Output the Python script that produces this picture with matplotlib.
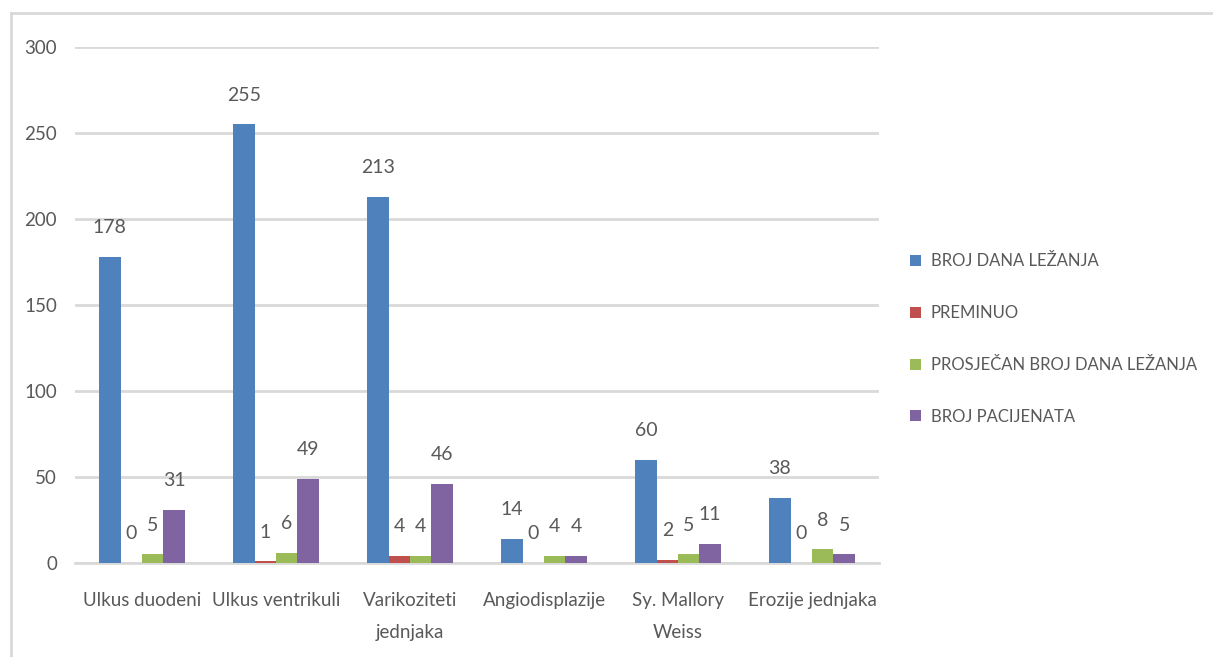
import matplotlib
matplotlib.use("Agg")
import matplotlib.pyplot as plt
import numpy as np
from matplotlib.lines import Line2D

plt.rcParams['font.family'] = ['Lato', 'DejaVu Sans']

categories = ["Ulkus duodeni", "Ulkus ventrikuli", "Varikoziteti\njednjaka",
              "Angiodisplazije", "Sy. Mallory\nWeiss", "Erozije jednjaka"]
series_names = ["BROJ DANA LEŽANJA", "PREMINUO",
                "PROSJEČAN BROJ DANA LEŽANJA", "BROJ PACIJENATA"]
broj_dana = [178, 255, 213, 14, 60, 38]
preminuo = [0, 1, 4, 0, 2, 0]
prosjecan = [5, 6, 4, 4, 5, 8]
pacijenti = [31, 49, 46, 4, 11, 5]
colors = ["#4F81BD", "#C0504D", "#9BBB59", "#8064A2"]
text_col = "#595959"

fig = plt.figure(figsize=(12.13, 6.57), dpi=100)
ax = fig.add_axes([0.0618, 0.1431, 0.6629, 0.7854])

x = np.arange(len(categories))
w = 0.16
data = [broj_dana, preminuo, prosjecan, pacijenti]
for i, (vals, name, c) in enumerate(zip(data, series_names, colors)):
    pos = x + (i - 1.5) * w
    ax.bar(pos, vals, w, color=c, label=name, zorder=3)
    for p, v in zip(pos, vals):
        ax.annotate(str(v), (p, v), xytext=(0, 21), textcoords="offset points",
                    ha="center", va="center", fontsize=14, color=text_col)

ax.set_xlim(-0.5, len(categories) - 0.5)
ax.set_ylim(0, 300)
ax.set_yticks(range(0, 301, 50))
ax.set_xticks(x)
ax.set_xticklabels(categories, linespacing=2.05)
ax.yaxis.grid(True, color="#D9D9D9", linewidth=2, zorder=0)
for s in ["top", "right", "left"]:
    ax.spines[s].set_visible(False)
ax.spines["bottom"].set_color("#D9D9D9")
ax.spines["bottom"].set_linewidth(2)
ax.tick_params(axis="both", length=0, labelsize=13.5, colors=text_col)
ax.tick_params(axis="y", pad=13)
ax.tick_params(axis="x", pad=21)

ax.legend(loc="center left", bbox_to_anchor=(1.02, 0.434), frameon=False,
          fontsize=12, labelcolor=text_col, handlelength=0.65, handleheight=0.65,
          handletextpad=0.6, labelspacing=2.15)

# outer chart frame
fig.add_artist(Line2D([11 / 1213, 1], [1 - 13 / 657, 1 - 13 / 657],
                      transform=fig.transFigure, color="#D9D9D9", linewidth=2))
fig.add_artist(Line2D([11 / 1213, 11 / 1213], [0, 1 - 13 / 657],
                      transform=fig.transFigure, color="#D9D9D9", linewidth=2))

fig.savefig("out.png", dpi=100)
